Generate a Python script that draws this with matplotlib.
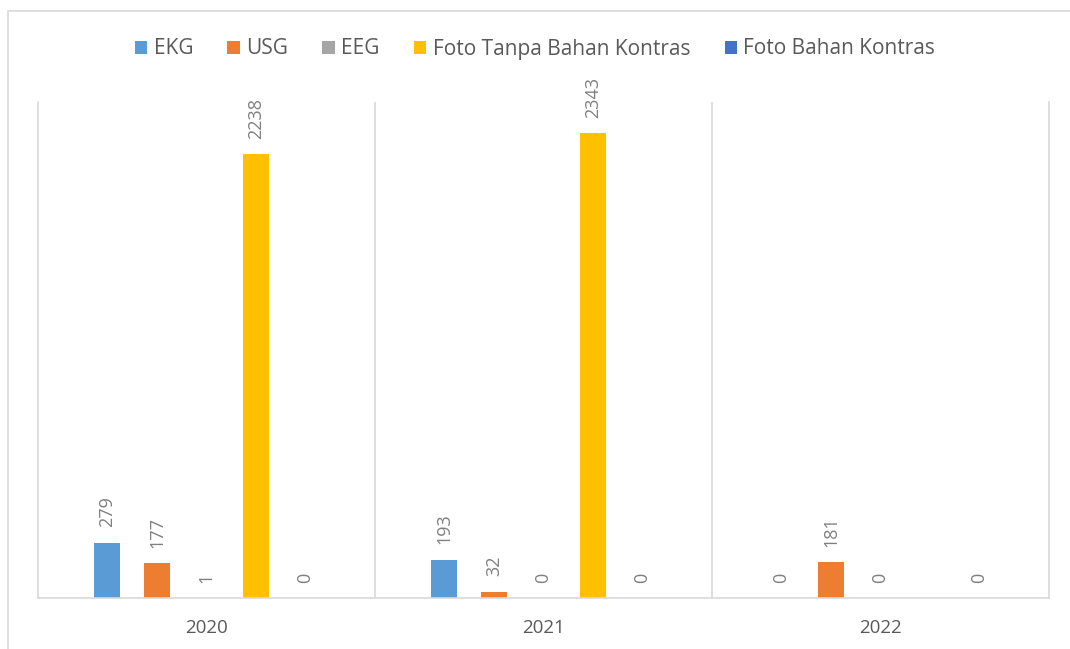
import numpy as np
import matplotlib.pyplot as plt
from matplotlib.patches import Rectangle

plt.rcParams['font.family'] = ['Open Sans', 'DejaVu Sans']

# data
years = ["2020", "2021", "2022"]
ekg = [279, 193, 0]
usg = [177, 32, 181]
eeg = [1, 0, 0]
foto_tanpa = [2238, 2343, np.nan]
foto_bahan = [0, 0, 0]

series = [
    ("EKG", ekg, "#5B9BD5"),
    ("USG", usg, "#ED7D31"),
    ("EEG", eeg, "#A5A5A5"),
    ("Foto Tanpa Bahan Kontras", foto_tanpa, "#FFC000"),
    ("Foto Bahan Kontras", foto_bahan, "#4472C4"),
]

fig = plt.figure(figsize=(10.7, 6.49), dpi=100)
ax = fig.add_axes([38 / 1070, 1 - 598 / 649, 1011 / 1070, 496 / 649])

# outer border
fig.patches.append(Rectangle((8 / 1070, -0.01), 1.0, 1 - 11 / 649 + 0.01,
                             transform=fig.transFigure, fill=False,
                             edgecolor="#d9d9d9", linewidth=1.2))

x = np.arange(len(years))
step = 0.1469
width = 0.0772
for i, (name, vals, col) in enumerate(series):
    pos = x + (i - 2) * step
    bars = ax.bar(pos, vals, width=width, color=col, label=name)
    for p, v in zip(pos, vals):
        if np.isnan(v):
            continue
        ax.annotate(f"{v:g}", (p, v), xytext=(0, 11), textcoords="offset points",
                    rotation=90, ha="center", va="bottom", fontsize=13,
                    color="#7f7f7f")

ax.set_xlim(-0.5, 2.5)
ax.set_ylim(0, 2500)
ax.set_xticks(x)
ax.set_xticklabels(years, fontsize=13.5, color="#595959")
ax.tick_params(axis="x", length=0, pad=15)
ax.set_yticks([])
for b in [0.5, 1.5]:
    ax.axvline(b, color="#d9d9d9", linewidth=1.2, zorder=0)
ax.spines["top"].set_visible(False)
for s in ["left", "right", "bottom"]:
    ax.spines[s].set_color("#d9d9d9")
    ax.spines[s].set_linewidth(1.2)

fig.legend(loc="center", bbox_to_anchor=(0.5, 1 - 49 / 649), ncol=5,
           frameon=False, fontsize=15, labelcolor="#595959",
           handlelength=0.6, handleheight=0.6, handletextpad=0.3,
           columnspacing=1.65)

fig.savefig("out.png", dpi=100)
